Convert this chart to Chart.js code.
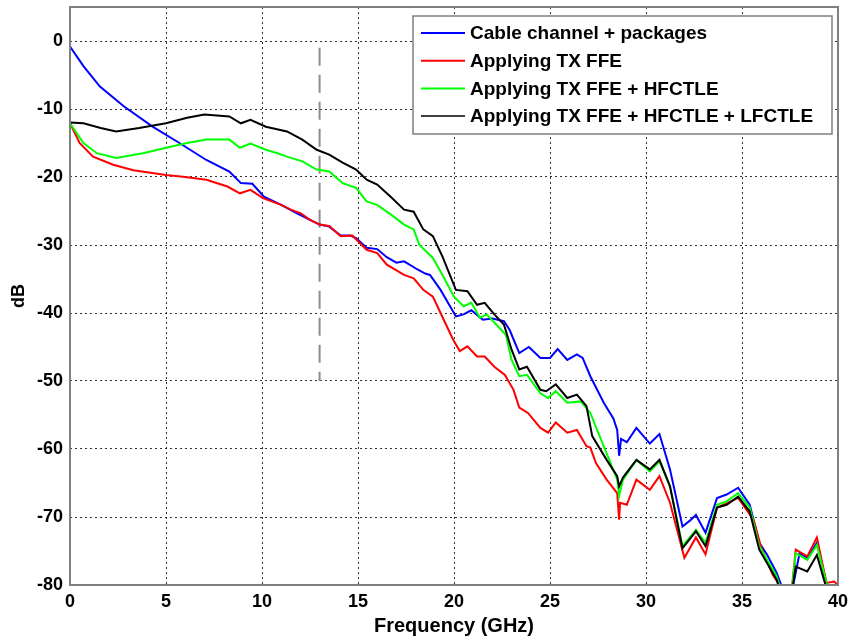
<!DOCTYPE html>
<html>
<head>
<meta charset="utf-8">
<script src="https://cdn.jsdelivr.net/npm/chart.js@4.4.1/dist/chart.umd.min.js"></script>
<style>
    body { margin: 0; background: #fff; }
    #wrap { width: 850px; height: 638px; }
</style>
</head>
<body>
<div id="wrap"><canvas id="lossChart"></canvas></div>
<script>
// values
const seriesNames = [
    "Cable channel + packages",
    "Applying TX FFE",
    "Applying TX FFE + HFCTLE",
    "Applying TX FFE + HFCTLE + LFCTLE",
];
const seriesColors = ["#0000ff", "#ff0000", "#00ff00", "#000000"];

const cableFreq = [0, 0.7, 1.56, 2.8, 4.3, 5.7, 7.1, 8.3, 8.9, 9.5, 10.1, 11.0, 11.8, 12.5, 13.0, 13.5, 14.1, 14.6, 14.9, 15.45, 16.0, 16.5, 17.0, 17.4, 18.1, 18.5, 18.75, 19.3, 20.1, 20.5, 20.9, 21.5, 22.0, 22.6, 22.9, 23.4, 23.9, 24.5, 25.0, 25.4, 25.9, 26.4, 26.7, 27.1, 27.8, 28.3, 28.5, 28.6, 28.7, 29.0, 29.5, 30.2, 30.7, 31.25, 31.9, 32.3, 32.6, 33.1, 33.7, 34.2, 34.8, 35.4, 35.9, 36.3, 36.8, 37.0, 37.3, 37.6, 38.0, 38.4, 38.9, 39.4, 39.6];
const cableDb = [-0.8, -3.7, -6.7, -9.6, -12.6, -15.0, -17.5, -19.2, -20.9, -21.0, -22.9, -24.1, -25.3, -26.3, -27.0, -27.3, -28.6, -28.6, -29.0, -30.4, -30.6, -31.8, -32.6, -32.4, -33.6, -34.2, -34.4, -36.6, -40.5, -40.2, -39.6, -41.0, -40.8, -41.2, -42.5, -45.9, -45.0, -46.6, -46.6, -45.3, -46.9, -46.1, -46.6, -49.3, -53.2, -55.5, -57.2, -61.0, -58.5, -59.0, -56.9, -59.2, -57.8, -63.0, -71.4, -70.5, -69.7, -72.3, -67.2, -66.7, -65.7, -68.2, -73.8, -75.5, -78.2, -79.7, -82, -81, -75.3, -76.0, -73.8, -79.7, -82];

const ffeFreq = [0, 0.5, 1.2, 2.25, 3.3, 5.0, 6.0, 7.1, 8.2, 8.85, 9.4, 10.05, 11.0, 11.5, 12.0, 12.5, 13.0, 13.5, 14.1, 14.7, 15.45, 16.0, 16.5, 17.4, 17.9, 18.4, 18.9, 19.3, 19.95, 20.3, 20.7, 21.2, 21.6, 22.1, 22.65, 23.1, 23.4, 23.85, 24.5, 24.9, 25.3, 25.9, 26.4, 26.9, 27.1, 27.4, 27.95, 28.5, 28.6, 28.65, 29.0, 29.5, 30.2, 30.7, 31.25, 32.0, 32.6, 33.1, 33.7, 34.2, 34.8, 35.6, 36.0, 36.6, 37.0, 37.3, 37.6, 37.8, 38.4, 38.9, 39.4, 39.8, 40];
const ffeDb = [-12.1, -15.0, -17.0, -18.2, -19.0, -19.7, -20.0, -20.4, -21.4, -22.4, -21.9, -23.1, -24.1, -24.8, -25.3, -26.3, -27.0, -27.2, -28.7, -28.6, -30.7, -31.2, -32.9, -34.4, -34.9, -36.6, -37.6, -40.0, -43.9, -45.6, -44.9, -46.4, -46.4, -47.9, -49.1, -51.3, -53.9, -54.7, -56.9, -57.6, -56.1, -57.6, -57.2, -59.6, -59.8, -62.1, -64.5, -66.5, -70.4, -67.9, -68.2, -64.5, -66.0, -64.0, -67.9, -76.0, -73.0, -75.5, -68.6, -68.0, -67.2, -70.4, -74.5, -78.5, -80.2, -82, -80.5, -74.8, -75.8, -73.0, -79.7, -79.5, -80];

const hfFreq = [0, 0.7, 1.4, 2.4, 3.8, 5.0, 6.1, 7.1, 8.3, 8.85, 9.4, 10.2, 10.8, 11.3, 12.1, 12.85, 13.5, 14.2, 14.9, 15.45, 16.0, 16.7, 17.4, 17.9, 18.2, 18.9, 19.4, 20.0, 20.5, 20.9, 21.35, 21.7, 22.2, 22.7, 23.0, 23.4, 23.8, 24.5, 24.9, 25.3, 25.9, 26.6, 27.1, 27.8, 28.5, 28.6, 28.8, 29.5, 30.2, 30.7, 31.25, 31.9, 32.6, 33.1, 33.7, 34.2, 34.8, 35.4, 35.9, 36.8, 37.0, 37.3, 37.6, 37.8, 38.4, 38.9, 39.4, 39.6];
const hfDb = [-12.1, -15.0, -16.5, -17.2, -16.5, -15.7, -15.0, -14.5, -14.5, -15.7, -15.1, -16.0, -16.5, -17.0, -17.7, -18.9, -19.2, -20.9, -21.6, -23.6, -24.1, -25.5, -27.0, -27.7, -30.0, -31.9, -34.4, -37.6, -39.0, -38.5, -40.7, -40.2, -41.7, -43.2, -46.9, -49.3, -49.1, -51.8, -52.5, -51.5, -53.2, -53.0, -54.7, -59.6, -64.5, -66.9, -64.5, -61.6, -63.3, -61.8, -65.5, -74.3, -71.9, -73.8, -68.2, -67.7, -66.5, -68.6, -74.3, -78.7, -80.5, -82, -80.5, -75.3, -76.3, -74.1, -79.7, -82];

const lfFreq = [0, 0.7, 1.6, 2.4, 3.6, 5.0, 6.1, 7.0, 8.3, 8.9, 9.4, 10.2, 11.3, 12.1, 12.85, 13.5, 14.2, 14.9, 15.45, 16.0, 16.7, 17.4, 17.9, 18.4, 18.9, 19.4, 20.1, 20.7, 21.2, 21.6, 22.1, 22.6, 23.0, 23.4, 23.8, 24.5, 24.8, 25.3, 25.9, 26.4, 26.9, 27.2, 27.95, 28.5, 28.6, 28.8, 29.5, 30.2, 30.7, 31.25, 31.9, 32.6, 33.1, 33.7, 34.2, 34.8, 35.4, 35.9, 36.8, 37.0, 37.6, 37.8, 38.4, 38.9, 39.4, 39.6];
const lfDb = [-12.0, -12.1, -12.8, -13.3, -12.8, -12.1, -11.3, -10.8, -11.1, -12.1, -11.6, -12.6, -13.3, -14.5, -16.0, -16.7, -17.9, -18.9, -20.4, -21.1, -22.9, -24.8, -25.1, -27.7, -28.7, -31.7, -36.6, -36.8, -38.8, -38.5, -40.2, -41.7, -45.4, -48.3, -47.9, -51.3, -51.5, -50.5, -52.5, -52.0, -53.7, -58.1, -61.6, -64.0, -65.5, -64.2, -61.6, -63.0, -61.6, -65.5, -74.6, -72.1, -74.3, -68.6, -68.2, -67.0, -69.2, -74.8, -79.2, -81, -81, -77.3, -78.0, -75.6, -80.5, -82];

// dashed gray marker at 13 GHz
const markerFreq = [13, 13];
const markerDb = [-1, -50];

const xTicks = [0, 5, 10, 15, 20, 25, 30, 35, 40];
const yTicks = [-80, -70, -60, -50, -40, -30, -20, -10, 0];

function toPoints(xs, ys) {
    return xs.map((x, i) => ({ x: x, y: ys[i] }));
}

const boldFont = '"Liberation Sans", Arial, sans-serif';

// matlab style box round the plot area
const frame = {
    id: "frame",
    afterDatasetsDraw(chart) {
        const a = chart.chartArea;
        const ctx = chart.ctx;
        ctx.save();
        ctx.strokeStyle = "#808080";
        ctx.lineWidth = 2;
        ctx.strokeRect(a.left, a.top, a.right - a.left, a.bottom - a.top);
        ctx.restore();
    },
};

// legend sits inside the plot, top right
const legendBox = {
    id: "legendBox",
    afterDraw(chart) {
        const ctx = chart.ctx;
        ctx.save();
        ctx.fillStyle = "#fff";
        ctx.fillRect(413, 16, 419, 118);
        ctx.strokeStyle = "#7f7f7f";
        ctx.lineWidth = 1.5;
        ctx.strokeRect(413, 16, 419, 118);
        ctx.font = "bold 19px " + boldFont;
        ctx.textBaseline = "middle";
        for (let i = 0; i < seriesNames.length; i++) {
            const y = 33 + i * 27.7;
            ctx.strokeStyle = seriesColors[i];
            ctx.lineWidth = i === 3 ? 1.5 : 2;
            ctx.beginPath();
            ctx.moveTo(421, y);
            ctx.lineTo(465, y);
            ctx.stroke();
            ctx.fillStyle = "#000";
            ctx.fillText(seriesNames[i], 470, y + 1);
        }
        ctx.restore();
    },
};

const seriesFreqs = [cableFreq, ffeFreq, hfFreq, lfFreq];
const seriesDbs = [cableDb, ffeDb, hfDb, lfDb];

const datasets = seriesNames.map((name, i) => ({
    label: name,
    data: toPoints(seriesFreqs[i], seriesDbs[i]),
    borderColor: seriesColors[i],
    borderWidth: 2,
    pointRadius: 0,
    tension: 0,
    order: 4 - i,
}));
datasets.push({
    label: "marker",
    data: toPoints(markerFreq, markerDb),
    borderColor: "#8c8c8c",
    borderWidth: 2,
    borderDash: [18, 9],
    pointRadius: 0,
    order: 10,
});

const ctx = document.getElementById("lossChart").getContext("2d");
const lossChart = new Chart(ctx, {
    type: "line",
    data: { datasets: datasets },
    options: {
        responsive: true,
        maintainAspectRatio: false,
        animation: false,
        layout: { padding: { top: 7, right: 12, left: 0, bottom: 0 }, autoPadding: false },
        plugins: {
            legend: { display: false },
            tooltip: { enabled: false },
        },
        scales: {
            x: {
                type: "linear",
                min: 0,
                max: 40,
                afterBuildTicks: (scale) => {
                    scale.ticks = xTicks.map((v) => ({ value: v }));
                },
                afterFit: (scale) => {
                    scale.height = 53;
                    scale.paddingLeft = 0;
                    scale.paddingRight = 0;
                },
                grid: { color: "rgba(0,0,0,0.8)", lineWidth: 1, drawTicks: false },
                border: { display: false, dash: [2, 3] },
                ticks: {
                    padding: 6,
                    color: "#000",
                    maxRotation: 0,
                    font: { family: boldFont, size: 18, weight: "bold" },
                },
                title: {
                    display: true,
                    text: "Frequency (GHz)",
                    color: "#000",
                    padding: { top: 0, bottom: 0 },
                    font: { family: boldFont, size: 20, weight: "bold" },
                },
            },
            y: {
                min: -80,
                max: 5,
                afterBuildTicks: (scale) => {
                    scale.ticks = yTicks.map((v) => ({ value: v }));
                },
                afterFit: (scale) => {
                    scale.width = 70;
                    scale.paddingTop = 0;
                    scale.paddingBottom = 0;
                },
                grid: { color: "rgba(0,0,0,0.8)", lineWidth: 1, drawTicks: false },
                border: { display: false, dash: [2, 3] },
                ticks: {
                    padding: 7,
                    color: "#000",
                    font: { family: boldFont, size: 18, weight: "bold" },
                },
                title: {
                    display: true,
                    text: "dB",
                    color: "#000",
                    padding: { top: 8, bottom: 0 },
                    font: { family: boldFont, size: 18, weight: "bold" },
                },
            },
        },
    },
    plugins: [frame, legendBox],
});
</script>
</body>
</html>
